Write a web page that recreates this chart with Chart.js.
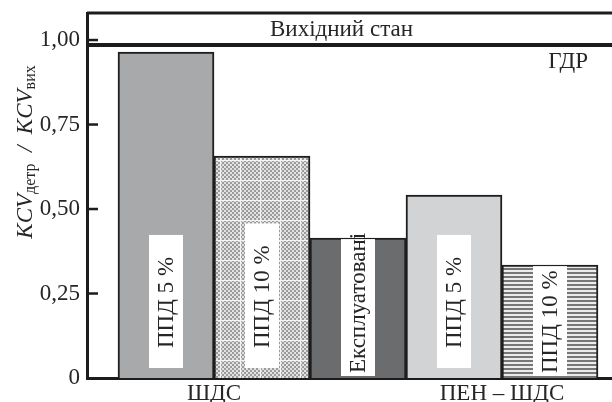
<!DOCTYPE html>
<html>
<head>
<meta charset="utf-8">
<script src="https://cdn.jsdelivr.net/npm/chart.js@4.4.1/dist/chart.umd.min.js"></script>
<style>
body { margin: 0; background: #fff; }
#box { width: 612px; height: 402px; }
</style>
</head>
<body>
<div id="box"><canvas id="bar-chartcanvas"></canvas></div>
<script>
// values
var barNames = ["ППД 5 %", "ППД 10 %", "Експлуатовані", "ППД 5 %", "ППД 10 %"];
var barValues = [0.964, 0.657, 0.414, 0.541, 0.334];
var groupNames = ["ШДС", "ПЕН – ШДС"];
var groupBars = [[0, 1], [3, 4]];
var yTicks = [0, 0.25, 0.5, 0.75, 1];
var initialLevel = 0.985;
var bandLabel = "Вихідний стан";
var limitLabel = "ГДР";

var serif = '"Liberation Serif", "DejaVu Serif", serif';
var ink = "#262626";

// fine grey checker with light grid every 20px
function checkerPattern() {
	var c = document.createElement("canvas");
	c.width = 20; c.height = 20;
	var g = c.getContext("2d");
	g.fillStyle = "#e2e2e2";
	g.fillRect(0, 0, 20, 20);
	g.fillStyle = "#9a9a9a";
	for (var i = 0; i < 10; i++) {
		for (var j = 0; j < 10; j++) {
			if ((i + j) % 2 == 0) g.fillRect(i * 2, j * 2, 2, 2);
		}
	}
	g.fillStyle = "#f4f4f4";
	g.fillRect(0, 0, 20, 1);
	g.fillRect(0, 0, 1, 20);
	return g.createPattern(c, "repeat");
}

// horizontal hatching
function stripePattern() {
	var c = document.createElement("canvas");
	c.width = 4; c.height = 4;
	var g = c.getContext("2d");
	g.fillStyle = "#ececec";
	g.fillRect(0, 0, 4, 4);
	g.fillStyle = "#767676";
	g.fillRect(0, 0, 4, 2);
	return g.createPattern(c, "repeat");
}

var fills = ["#a8a9ab", checkerPattern(), "#6b6c6e", "#d2d3d5", stripePattern()];

var points = [];
for (var i = 0; i < barValues.length; i++) {
	points.push({ x: i, y: barValues[i] });
}

var groupCenters = groupBars.map(function (g) {
	var s = 0;
	for (var k = 0; k < g.length; k++) s += g[k];
	return s / g.length;
});

function line(ctx, x1, y1, x2, y2) {
	ctx.beginPath();
	ctx.moveTo(x1, y1);
	ctx.lineTo(x2, y2);
	ctx.stroke();
}

var overlay = {
	id: "overlay",
	afterDatasetsDraw: function (chart) {
		var ctx = chart.ctx;
		var area = chart.chartArea;
		var ys = chart.scales.y;
		var meta = chart.getDatasetMeta(0);
		ctx.save();

		// white label strips inside the bars
		ctx.font = "23px " + serif;
		meta.data.forEach(function (bar, i) {
			var text = barNames[i];
			var w = ctx.measureText(text).width;
			var base = bar.base;
			var textBottom = base - 30;
			var boxTop = textBottom - w - 22;
			var boxBottom = base - 10;
			if (boxTop < bar.y + 6) {
				boxTop = bar.y + 1;
				boxBottom = base - 2;
				textBottom = base - 5;
			}
			ctx.fillStyle = "#fff";
			ctx.fillRect(bar.x - 17, boxTop, 34, boxBottom - boxTop);
			ctx.save();
			ctx.translate(bar.x + 1, textBottom);
			ctx.rotate(-Math.PI / 2);
			ctx.fillStyle = ink;
			ctx.textAlign = "left";
			ctx.textBaseline = "middle";
			ctx.fillText(text, 0, 0);
			ctx.restore();
		});

		// top band and initial level line
		ctx.strokeStyle = "#1c1c1c";
		ctx.lineWidth = 3;
		line(ctx, area.left, area.top, area.right, area.top);
		var yl = ys.getPixelForValue(initialLevel);
		ctx.lineWidth = 4;
		line(ctx, area.left, yl, area.right, yl);

		// inward tick marks
		ctx.lineWidth = 2.5;
		ys.ticks.forEach(function (t) {
			if (t.value > 0) {
				var p = ys.getPixelForValue(t.value);
				line(ctx, area.left, p, area.left + 11, p);
			}
		});

		ctx.fillStyle = ink;
		ctx.font = "23px " + serif;
		ctx.textAlign = "center";
		ctx.textBaseline = "middle";
		ctx.fillText(bandLabel, (area.left + area.right) / 2 - 8, (area.top + yl) / 2 + 1);
		ctx.textAlign = "right";
		ctx.fillText(limitLabel, area.right - 24, yl + 17);

		// y title KCV_детр / KCV_вих
		var parts = [
			{ t: "KCV", f: "italic 23px " + serif, dy: 0 },
			{ t: "детр", f: "16px " + serif, dy: 3 },
			{ t: "  /  ", f: "italic 23px " + serif, dy: 0 },
			{ t: "KCV", f: "italic 23px " + serif, dy: 0 },
			{ t: "вих", f: "16px " + serif, dy: 3 }
		];
		var total = 0;
		parts.forEach(function (p) {
			ctx.font = p.f;
			p.w = ctx.measureText(p.t).width;
			total += p.w;
		});
		ctx.save();
		ctx.translate(32, 152);
		ctx.rotate(-Math.PI / 2);
		ctx.textAlign = "left";
		ctx.textBaseline = "alphabetic";
		var pos = -total / 2;
		parts.forEach(function (p) {
			ctx.font = p.f;
			ctx.fillText(p.t, pos, p.dy);
			pos += p.w;
		});
		ctx.restore();

		ctx.restore();
	}
};

var ctx = document.getElementById("bar-chartcanvas");

var data = {
	datasets: [
		{
			data: points,
			backgroundColor: fills,
			borderColor: "#1e1e1e",
			borderWidth: 2,
			barPercentage: 1,
			categoryPercentage: 1
		}
	]
};

var options = {
	responsive: true,
	maintainAspectRatio: false,
	animation: false,
	devicePixelRatio: 1,
	layout: { padding: { top: 13, left: 0, right: 0, bottom: 0 } },
	plugins: {
		legend: { display: false },
		tooltip: { enabled: false }
	},
	scales: {
		x: {
			type: "linear",
			offset: false,
			min: -0.823,
			max: 4.646,
			grid: { display: false, drawTicks: false },
			border: { display: true, width: 3, color: "#1c1c1c" },
			afterBuildTicks: function (scale) {
				scale.ticks = groupCenters.map(function (v) { return { value: v }; });
			},
			afterFit: function (scale) {
				scale.height = 24;
				scale.paddingLeft = 0;
				scale.paddingRight = 0;
			},
			ticks: {
				autoSkip: false,
				maxRotation: 0,
				padding: 2,
				color: ink,
				font: { family: serif, size: 23 },
				callback: function (value, index) { return groupNames[index]; }
			}
		},
		y: {
			min: 0,
			max: 1.08,
			grid: { display: false, drawTicks: false },
			border: { display: true, width: 3, color: "#1c1c1c" },
			afterBuildTicks: function (scale) {
				scale.ticks = yTicks.map(function (v) { return { value: v }; });
			},
			afterFit: function (scale) {
				scale.width = 87;
				scale.paddingTop = 0;
				scale.paddingBottom = 0;
			},
			ticks: {
				padding: 7,
				color: ink,
				font: { family: serif, size: 23 },
				callback: function (value) {
					return value == 0 ? "0" : value.toFixed(2).replace(".", ",");
				}
			}
		}
	}
};

var chart = new Chart(ctx, {
	type: "bar",
	data: data,
	options: options,
	plugins: [overlay]
});
</script>
</body>
</html>
